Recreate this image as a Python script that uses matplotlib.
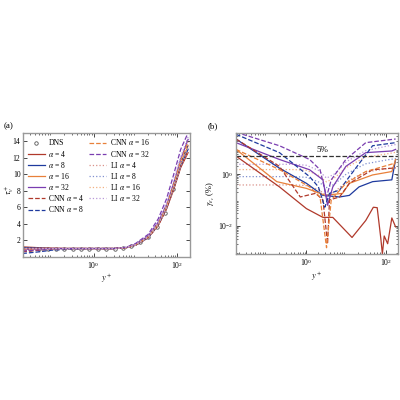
import numpy as np
import matplotlib
matplotlib.use('Agg')
import matplotlib.pyplot as plt

plt.rcParams['font.family'] = ['Liberation Serif', 'DejaVu Serif']
plt.rcParams['mathtext.fontset'] = 'stix'
plt.rcParams['font.size'] = 6

C4, C8, C16, C32 = '#b0392b', '#1e3a9e', '#e8803a', '#7a3db0'
L4, L8, L16, L32 = '#d99088', '#8090d0', '#f2b080', '#b898d8'

# ---- panel (a): profiles vs y+
ya = [0.02, 0.05, 0.1, 0.3, 1, 3, 6, 10, 20, 35, 55, 80, 120, 180]
dns_x = [0.03, 0.05, 0.08, 0.13, 0.2, 0.33, 0.5, 0.8, 1.3, 2, 3.3, 5, 8, 13, 20, 33, 50, 80, 130]
dns_y = [1.0, 1.0, 1.0, 1.0, 1.0, 1.0, 1.0, 1.0, 1.0, 1.0, 1.0, 1.05, 1.25, 1.75, 2.4, 3.6, 5.3, 8.2, 11.8]
prof_a = {
    'a4':   [1.2, 1.1, 1.05, 1.0, 1.0, 1.0, 1.1, 1.4, 2.3, 3.8, 5.8, 8.0, 10.8, 12.6],
    'a8':   [1.1, 1.05, 1.0, 1.0, 1.0, 1.0, 1.1, 1.4, 2.3, 3.9, 5.9, 8.2, 11.0, 13.0],
    'a16':  [1.0, 1.0, 1.0, 1.0, 1.0, 1.0, 1.1, 1.45, 2.4, 4.0, 6.0, 8.4, 11.3, 13.4],
    'a32':  [0.9, 0.95, 1.0, 1.0, 1.0, 1.0, 1.1, 1.5, 2.5, 4.2, 6.3, 8.8, 11.8, 14.2],
    'c4':   [0.6, 0.8, 0.9, 1.0, 1.0, 1.0, 1.1, 1.4, 2.3, 3.8, 5.8, 8.1, 10.9, 12.8],
    'c8':   [0.4, 0.6, 0.8, 0.95, 1.0, 1.0, 1.1, 1.45, 2.4, 4.0, 6.1, 8.5, 11.4, 13.6],
    'c16':  [0.8, 0.9, 0.95, 1.0, 1.0, 1.0, 1.1, 1.45, 2.4, 4.0, 6.1, 8.6, 11.6, 13.9],
    'c32':  [0.7, 0.85, 0.95, 1.0, 1.0, 1.0, 1.15, 1.6, 2.7, 4.6, 7.0, 9.8, 13.0, 15.0],
    'l4':   [1.0, 1.0, 1.0, 1.0, 1.0, 1.0, 1.1, 1.4, 2.3, 3.8, 5.8, 8.1, 10.9, 12.7],
    'l8':   [1.0, 1.0, 1.0, 1.0, 1.0, 1.0, 1.1, 1.4, 2.35, 3.9, 5.9, 8.3, 11.1, 13.1],
    'l16':  [1.0, 1.0, 1.0, 1.0, 1.0, 1.0, 1.1, 1.45, 2.4, 4.0, 6.1, 8.5, 11.4, 13.6],
    'l32':  [1.0, 1.0, 1.0, 1.0, 1.0, 1.0, 1.15, 1.5, 2.5, 4.2, 6.4, 9.0, 12.1, 14.5],
}

# ---- panel (b): relative error (%) vs y+
err_b = {
    'a4':  ([0.017, 0.21, 1.0, 2.6, 4.6, 14, 31, 48, 60, 74, 81, 90, 110, 140, 174],
            [5.0, 0.32, 0.046, 0.021, 0.021, 0.0035, 0.016, 0.052, 0.05, 0.0032, 0.0008, 0.004, 0.002, 0.02, 0.009]),
    'a8':  ([0.017, 0.21, 1.0, 2.6, 6.8, 12, 21, 46, 140, 174],
            [23, 1.7, 0.44, 0.15, 0.13, 0.15, 0.32, 0.51, 0.6, 3.7]),
    'a16': ([0.017, 0.18, 1.0, 3.0, 8.1, 12, 46, 140, 174],
            [9.1, 0.51, 0.28, 0.15, 0.18, 0.44, 0.93, 1.26, 3.7]),
    'a32': ([0.017, 0.21, 1.2, 2.6, 3.4, 4.6, 9.8, 31, 140, 174],
            [16.6, 3.7, 1.48, 0.6, 0.062, 0.32, 2.0, 6.8, 7.9, 9.1]),
    'c4':  ([0.017, 0.21, 0.7, 1.7, 2.6, 3.4, 3.8, 6.8, 12, 46, 174],
            [23, 2.0, 0.13, 0.18, 0.1, 0.002, 0.1, 0.13, 0.44, 1.48, 1.74]),
    'c8':  ([0.017, 0.21, 1.2, 2.0, 2.9, 3.8, 6.8, 12, 46, 174],
            [35, 6.8, 0.8, 0.32, 0.052, 0.18, 0.24, 0.8, 12.6, 16.6]),
    'c16': ([0.017, 0.21, 1.2, 2.2, 3.2, 4.2, 9.8, 31, 174],
            [9.1, 1.5, 0.32, 0.13, 0.0014, 0.1, 0.44, 1.26, 2.7]),
    'c32': ([0.017, 0.21, 1.2, 2.2, 3.2, 4.2, 9.8, 31, 174],
            [42, 12.6, 3.7, 1.48, 0.13, 0.6, 3.7, 16.6, 23]),
    'l4':  ([0.017, 0.5, 1.0, 2.0, 3.2, 5.0, 10, 30, 100, 174],
            [0.38, 0.38, 0.36, 0.25, 0.15, 0.2, 0.5, 1.2, 1.6, 1.8]),
    'l8':  ([0.017, 0.5, 1.0, 2.0, 3.2, 5.0, 10, 30, 100, 174],
            [0.8, 0.8, 0.75, 0.5, 0.3, 0.4, 1.0, 2.5, 3.5, 4.0]),
    'l16': ([0.017, 0.5, 1.0, 2.0, 3.2, 5.0, 10, 30, 100, 174],
            [1.5, 1.5, 1.4, 0.9, 0.5, 0.7, 1.8, 4.5, 6.0, 7.0]),
    'l32': ([0.017, 0.5, 1.0, 2.0, 3.2, 5.0, 10, 30, 100, 174],
            [2.4, 2.4, 2.2, 1.4, 0.7, 1.0, 3.0, 8.0, 12, 14]),
}

styles = {
    'a4': (C4, '-', r'$\alpha$ = 4'), 'a8': (C8, '-', r'$\alpha$ = 8'),
    'a16': (C16, '-', r'$\alpha$ = 16'), 'a32': (C32, '-', r'$\alpha$ = 32'),
    'c4': (C4, '--', r'CNN $\alpha$ = 4'), 'c8': (C8, '--', r'CNN $\alpha$ = 8'),
    'c16': (C16, '--', r'CNN $\alpha$ = 16'), 'c32': (C32, '--', r'CNN $\alpha$ = 32'),
    'l4': (L4, ':', r'LI $\alpha$ = 4'), 'l8': (L8, ':', r'LI $\alpha$ = 8'),
    'l16': (L16, ':', r'LI $\alpha$ = 16'), 'l32': (L32, ':', r'LI $\alpha$ = 32'),
}

fig = plt.figure(figsize=(4, 4), dpi=100)
axa = fig.add_axes([0.058, 0.358, 0.417, 0.31])
axb = fig.add_axes([0.59, 0.365, 0.405, 0.303])

axa.plot(dns_x, dns_y, 'o', mfc='none', mec='#555555', ms=2.5, mew=0.6, label='DNS')
for k in ['a4', 'a8', 'a16', 'a32', 'c4', 'c8', 'c16', 'c32', 'l4', 'l8', 'l16', 'l32']:
    c, ls, lab = styles[k]
    axa.plot(ya, prof_a[k], color=c, ls=ls, lw=0.9, label=lab)
axa.set_xscale('log')
axa.set_xlim(0.021, 200)
axa.set_ylim(0, 15)
axa.set_yticks([2, 4, 6, 8, 10, 12, 14])
axa.set_xticks([1, 100])
axa.set_xlabel(r'$y^+$', labelpad=1)
fig.text(0.022, 0.525, r'$\tau_v^+$', rotation=90, ha='center', va='center', fontsize=6)
axa.legend(ncol=2, frameon=False, loc='upper left', fontsize=5.5, handlelength=2.2,
           columnspacing=0.6, labelspacing=0.15, borderaxespad=0.2, handletextpad=0.5)
fig.text(0.008, 0.68, '(a)', fontsize=6.5)

for k in ['l4', 'l8', 'l16', 'l32', 'a4', 'a8', 'a16', 'a32', 'c4', 'c8', 'c16', 'c32']:
    c, ls, lab = styles[k]
    xs, vs = err_b[k]
    axb.plot(xs, vs, color=c, ls=ls, lw=0.9)
axb.axhline(5, color='#333333', ls='--', lw=0.9)
axb.text(2.5, 6.2, '5%', ha='center', va='bottom', fontsize=6.5)
axb.set_xscale('log')
axb.set_yscale('log')
axb.set_xlim(0.017, 200)
axb.set_ylim(8e-4, 40)
axb.set_xticks([1, 100])
axb.set_yticks([1e-2, 1])
axb.set_xlabel(r'$y^+$', labelpad=1)
axb.set_ylabel(r'$\gamma_{\varepsilon_c}$ (%)', labelpad=1)
fig.text(0.52, 0.68, '(b)', fontsize=6.5)

for ax in (axa, axb):
    ax.tick_params(which='both', direction='in', top=True, right=True, labelsize=5.5, pad=2)
    ax.tick_params(which='major', length=3, width=0.5)
    ax.tick_params(which='minor', length=1.5, width=0.4)
    for s in ax.spines.values():
        s.set_color('#999999')
        s.set_linewidth(1.0)

fig.savefig('out.png', dpi=100)
